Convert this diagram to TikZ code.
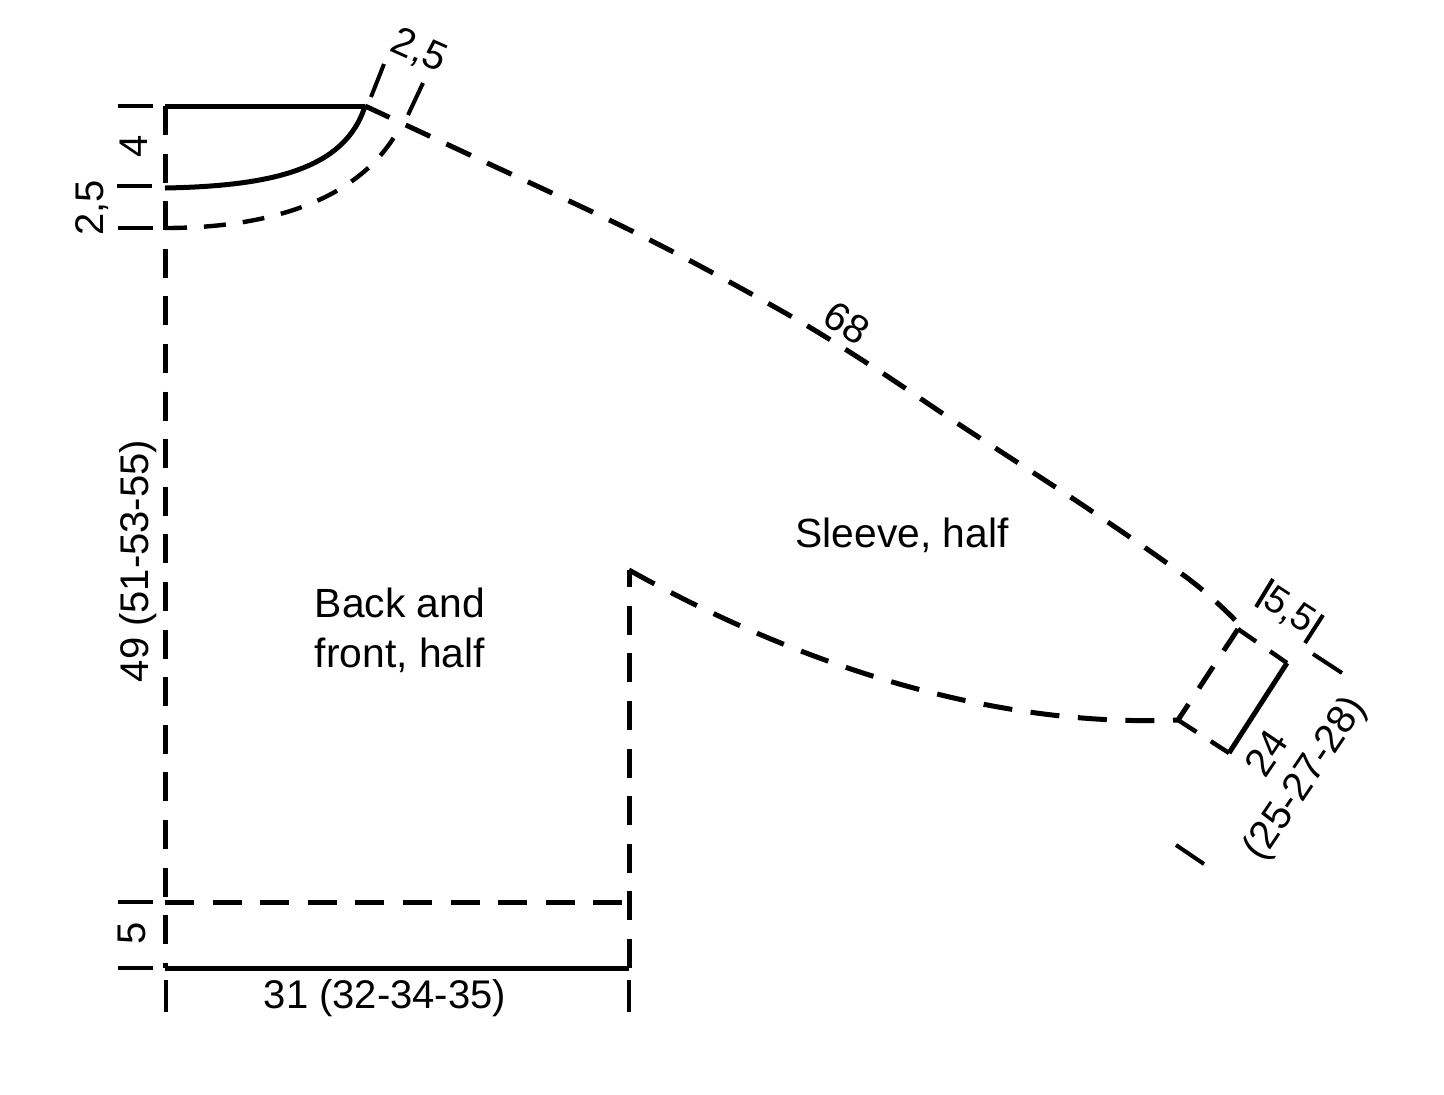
\documentclass[tikz,border=0pt]{standalone}
\usepackage{fontspec}
\setmainfont{Liberation Sans}
\tikzstyle{solidline} = [ line width=2.5pt]
\tikzstyle{longdash} = [ line width=2.5pt, dash pattern=on 14.5pt off 9.3pt]
\tikzstyle{shortdash} = [ line width=2.2pt, dash pattern=on 11pt off 8.5pt]
\tikzstyle{dimtick} = [ line width=2pt]
\tikzstyle{dimlabel} = [ inner sep=0pt, font=\fontsize{20}{24}\selectfont]
\tikzstyle{partlabel} = [ inner sep=0pt, align=center, font=\fontsize{20.4}{25}\selectfont]

\begin{document}
\begin{tikzpicture}[x=0.5pt, y=-0.5pt]
  \useasboundingbox (0,0) rectangle (1444,1094);

  \coordinate (neck_top) at (165,106);
  \coordinate (neck_tip) at (365,106);
  \coordinate (neck_in) at (165,188);
  \coordinate (neck_out) at (165,228);
  \coordinate (seam_tip) at (401,125);
  \coordinate (hem_left) at (165,968);
  \coordinate (hem_right) at (629,968);
  \coordinate (rib_left) at (165,902);
  \coordinate (rib_right) at (625,902);
  \coordinate (armpit) at (629,570);
  \coordinate (cuff_a) at (1238,629);
  \coordinate (cuff_b) at (1287,663);
  \coordinate (cuff_c) at (1229,753);
  \coordinate (cuff_d) at (1178,720);

  % body
  \draw [solidline] (neck_top) -- (neck_tip);
  \draw [solidline] (neck_in) .. controls (270,186) and (345,170) .. (neck_tip);
  \draw [shortdash] (neck_out) .. controls (260,228) and (360,205) .. (seam_tip);
  \draw [longdash] (neck_top) -- (hem_left);
  \draw [longdash] (rib_left) -- (rib_right);
  \draw [solidline] (hem_left) -- (hem_right);
  \draw [longdash] (hem_right) -- (armpit);

  % sleeve
  \draw [longdash, dash pattern=on 13.5pt off 8.95pt] plot [smooth, tension=0.6] coordinates {(neck_tip) (470,155) (640,235) (780,310) (870,365) (960,425) (1090,510) (1190,580) (1235,620)};
  \draw [longdash] (armpit) .. controls (790,660) and (985,728) .. (cuff_d);
  \draw [shortdash] (cuff_a) -- (cuff_b);
  \draw [shortdash] (cuff_d) -- (cuff_c);
  \draw [longdash, dash pattern=on 13pt off 9.5pt] (cuff_a) -- (cuff_d);
  \draw [solidline] (cuff_b) -- (cuff_c);

  % ticks
  \draw [dimtick] (118,106) -- (153,106);
  \draw [dimtick] (117,186) -- (152,186);
  \draw [dimtick] (118,228) -- (153,228);
  \draw [dimtick] (118,902) -- (153,902);
  \draw [dimtick] (118,968) -- (153,968);
  \draw [dimtick] (166,980) -- (166,1012);
  \draw [dimtick] (629,980) -- (629,1012);
  \draw [dimtick] (384,64) -- (371,97);
  \draw [dimtick] (423,83) -- (408,115);
  \draw [dimtick] (1273,579) -- (1256,607);
  \draw [dimtick] (1323,615) -- (1305,643);
  \draw [dimtick] (1313,654) -- (1342,673);
  \draw [dimtick] (1176,845) -- (1204,864);

  % labels
  \node [dimlabel, rotate=-24] (neck_width) at (419,51) {2,5};
  \node [dimlabel, rotate=90] (neck_back) at (134,146) {4};
  \node [dimlabel, rotate=90] (neck_front) at (92,208) {2,5};
  \node [dimlabel, rotate=90] (body_len) at (138,561) {49 (51-53-55)};
  \node [dimlabel, rotate=90] (rib_len) at (132,933) {5};
  \node [dimlabel] (body_width) at (385,998) {31 (32-34-35)};
  \node [partlabel] (body_name) at (400,630) {Back and\\front, half};
  \node [partlabel] (sleeve_name) at (902,535) {Sleeve, half};
  \node [dimlabel, rotate=-33] (sleeve_len) at (847,323) {68};
  \node [dimlabel, rotate=-33, font=\fontsize{19}{23}\selectfont] (cuff_len) at (1289,611) {5,5};
  \node [dimlabel, rotate=56] (cuff_width) at (1266,753) {24};
  \node [dimlabel, rotate=56] (cuff_sizes) at (1306,779) {(25-27-28)};
\end{tikzpicture}
\end{document}
